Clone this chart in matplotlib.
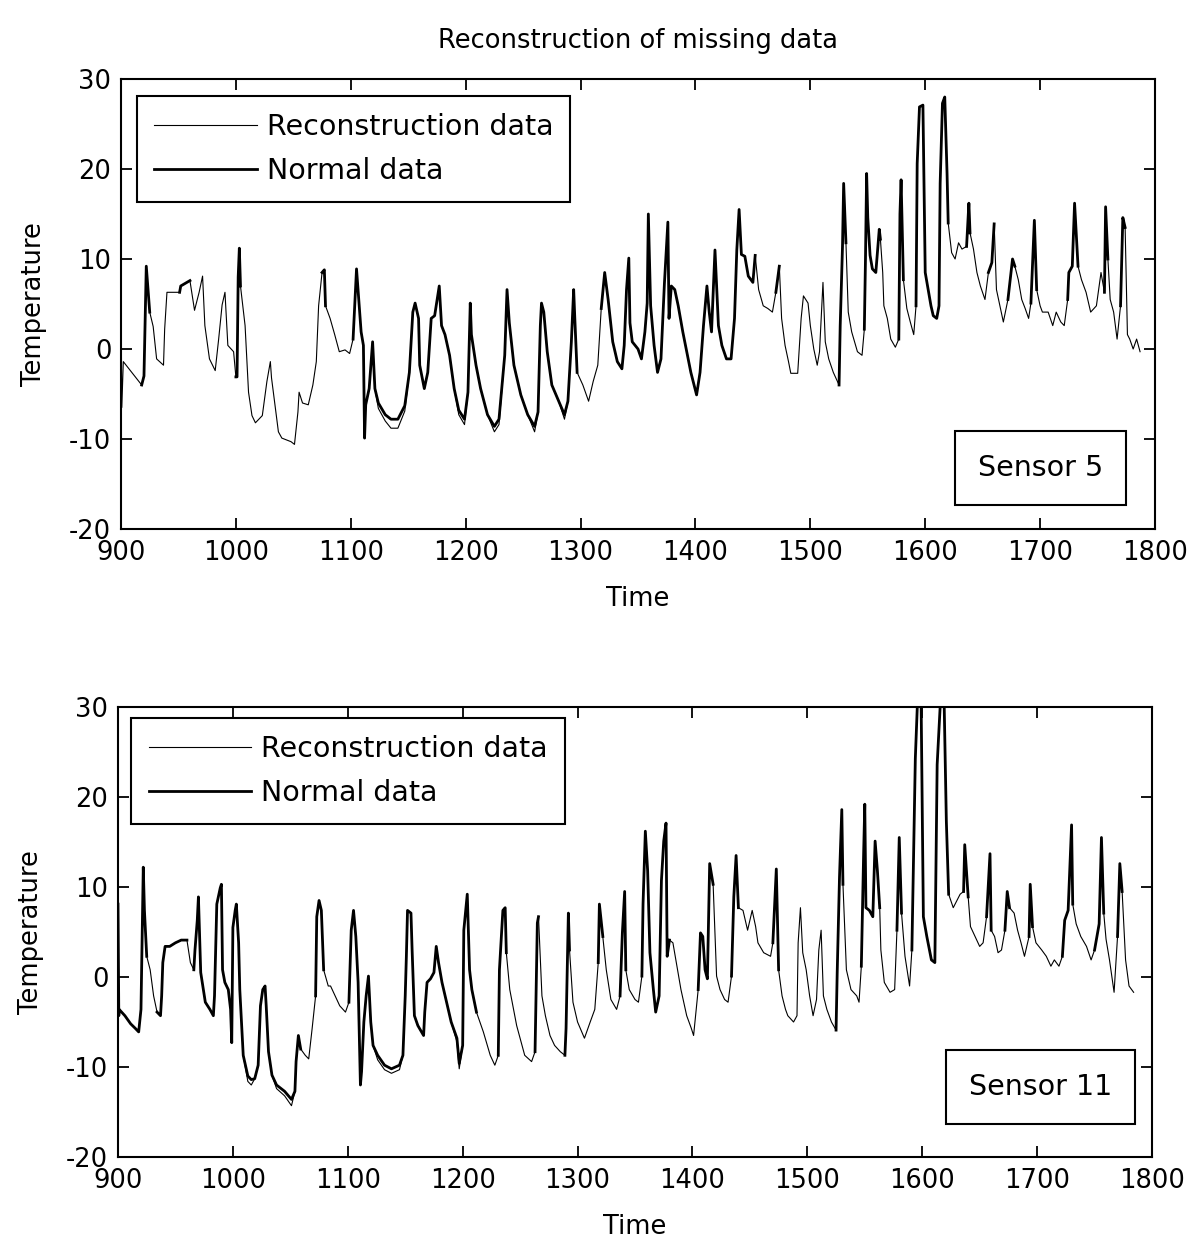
import numpy as np
import matplotlib
matplotlib.use("Agg")
import matplotlib.pyplot as plt

plt.rcParams['font.family'] = ['DejaVu Sans']
plt.rcParams['axes.unicode_minus'] = False

# ---------------- Sensor 5 (top) ----------------
t5 = [900, 900.7, 902, 918, 920, 922, 925, 928, 931, 937, 938, 940, 951, 952, 960, 964, 968, 971, 973,
      977, 982, 985, 988, 990.5, 993, 998, 1000, 1001, 1002, 1003, 1004, 1008, 1011, 1014, 1017, 1023,
      1027, 1030, 1031, 1034, 1037, 1040, 1048, 1051, 1054, 1055, 1058, 1063, 1067, 1070, 1072, 1075,
      1077, 1078, 1082, 1086, 1090, 1095, 1099, 1102, 1105, 1109, 1111, 1112, 1113, 1116, 1119, 1121,
      1124, 1130, 1135, 1141, 1147, 1151, 1154, 1156, 1159, 1160, 1164, 1167, 1170, 1173, 1177, 1179,
      1182, 1186, 1190, 1194, 1199, 1202, 1204, 1205, 1209, 1213, 1219, 1225, 1229, 1234, 1236, 1238,
      1242, 1248, 1254, 1260, 1263, 1265, 1266, 1268, 1271, 1275, 1281, 1286, 1289, 1292, 1294, 1295,
      1297, 1302, 1307, 1311, 1315, 1318, 1321, 1324, 1328, 1332, 1336, 1338, 1340, 1342, 1343, 1345,
      1350, 1353, 1356, 1358, 1359, 1361, 1364, 1367, 1370, 1373, 1376, 1377, 1379, 1382, 1385, 1389,
      1393, 1396, 1401, 1404, 1407, 1410, 1412, 1414, 1417, 1420, 1423, 1427, 1431, 1434, 1436, 1438,
      1440, 1443, 1446, 1450, 1452, 1455, 1459, 1463, 1467, 1470, 1473, 1475, 1478, 1481, 1483, 1489,
      1492, 1494, 1498, 1500, 1503, 1506, 1508, 1511, 1513, 1516, 1520, 1525, 1526, 1528, 1529, 1531,
      1533, 1536, 1541, 1545, 1547, 1548, 1549, 1550, 1552, 1554, 1557, 1560, 1561, 1563, 1564, 1567,
      1570, 1574, 1577, 1578, 1579, 1581, 1584, 1587, 1590, 1592, 1593, 1595, 1598, 1600, 1603, 1605,
      1607, 1610, 1612, 1613, 1615, 1617, 1619, 1620, 1623, 1626, 1629, 1632, 1636, 1638, 1639, 1642,
      1645, 1648, 1652, 1655, 1658, 1660, 1662, 1665, 1668, 1672, 1676, 1678, 1681, 1684, 1687, 1690,
      1692, 1695, 1697, 1700, 1702, 1707, 1711, 1714, 1718, 1721, 1724, 1725, 1728, 1730, 1733, 1736,
      1740, 1744, 1749, 1753, 1756, 1757, 1759, 1761, 1764, 1767, 1770, 1772, 1774, 1776, 1778, 1781,
      1784, 1787]
recon5 = [6.0, -6.5, -1.4, -4.0, -3.0, 9.2, 4.1, 2.5, -1.1, -1.8, 2.2, 6.3, 6.3, 7.0, 7.6, 4.3, 6.3, 8.1, 2.6,
          -1.1, -2.4, 1.1, 4.9, 6.3, 0.4, -0.3, -3.1, -3.1, 8.0, 11.2, 7.0, 2.6, -4.8, -7.4, -8.2, -7.4,
          -3.6, -1.4, -3.2, -6.2, -9.2, -9.9, -10.3, -10.6, -7.0, -4.8, -6.0, -6.2, -4.0, -1.4, 4.8, 8.5,
          8.8, 4.8, 3.4, 1.6, -0.3, -0.1, -0.5, 1.1, 8.9, 1.9, 0.4, -9.9, -6.2, -4.4, 0.8, -4.4,
          -6.6, -8.0, -8.8, -8.8, -6.9, -2.6, 4.1, 5.1, 3.4, -1.8, -4.4, -2.6, 3.4, 3.7, 7.0, 2.6,
          1.6, -0.7, -4.4, -7.3, -8.4, -4.8, 5.1, 1.6, -1.8, -4.4, -7.3, -9.2, -8.4, -0.7, 6.6, 2.9,
          -1.8, -5.1, -7.3, -9.2, -7.0, 2.6, 5.1, 4.1, -0.3, -4.0, -5.8, -7.8, -5.8, 0.8, 6.6, 3.4,
          -2.6, -4.0, -5.8, -3.6, -1.8, 4.5, 8.5, 5.5, 0.8, -1.4, -2.2, 0.4, 6.6, 10.1, 2.9, 0.8,
          0.0, -1.1, 1.9, 5.1, 15.0, 4.8, 0.4, -2.6, -1.1, 7.3, 14.1, 3.4, 7.0, 6.6, 4.8, 1.9,
          -0.7, -2.6, -5.1, -2.6, 2.6, 7.0, 4.1, 1.9, 11.0, 2.6, 0.4, -1.1, -1.1, 3.4, 11.0, 15.5,
          10.5, 10.3, 8.1, 7.4, 10.4, 6.6, 4.8, 4.5, 4.1, 6.3, 9.2, 3.4, 0.4, -1.4, -2.7, -2.7,
          3.4, 5.9, 5.1, 2.6, 0.0, -1.8, -0.3, 7.4, 0.8, -1.1, -2.6, -4.0, 2.6, 11.4, 18.4, 11.8,
          4.1, 1.9, -0.3, -0.7, 2.2, 10.0, 19.5, 14.6, 10.4, 8.9, 8.5, 13.3, 12.2, 8.5, 4.8, 3.4,
          1.1, 0.2, 1.1, 15.0, 18.8, 7.7, 4.5, 3.0, 1.6, 4.8, 20.6, 26.9, 27.1, 8.5, 6.3, 4.8,
          3.7, 3.4, 4.8, 18.4, 27.3, 28.0, 19.5, 14.0, 10.7, 10.0, 11.8, 11.1, 11.4, 16.2, 12.9, 11.1,
          8.5, 7.0, 5.5, 8.5, 9.6, 13.9, 6.6, 4.8, 3.0, 5.5, 10.0, 9.2, 7.7, 5.5, 4.5, 3.4,
          5.1, 14.3, 6.6, 4.8, 4.1, 4.1, 2.6, 4.1, 3.0, 2.6, 5.5, 8.5, 9.2, 16.2, 9.2, 7.7,
          6.3, 4.1, 4.8, 8.5, 6.3, 15.8, 10.0, 5.5, 4.1, 1.1, 4.8, 14.6, 13.5, 1.6, 1.1, 0.0,
          1.1, -0.3]
# time spans where normal (measured) data are present for sensor 5
normal5_spans = [(918, 926), (945, 961), (1000, 1005), (1074, 1079), (1100, 1300), (1318, 1446),
                 (1450, 1453), (1470, 1474), (1525, 1532), (1547, 1562), (1576, 1581),
                 (1592, 1621), (1636, 1640), (1655, 1661), (1672, 1678), (1692, 1697),
                 (1724, 1733), (1755, 1759), (1770, 1775)]
# normal values that differ from the reconstruction (troughs)
normal5_diff = {1124: -6.0, 1130: -7.3, 1135: -7.8, 1141: -7.8, 1147: -6.3, 1194: -6.8, 1199: -7.8,
                1225: -8.6, 1229: -7.8, 1260: -8.6, 1286: -7.3}

# ---------------- Sensor 11 (bottom) ----------------
t11 = [900, 900.7, 901, 906, 911, 915, 918, 920, 922, 923, 925, 928, 931, 934, 937, 938, 939, 941, 945,
       950, 955, 960, 963, 966, 967, 969, 970, 972, 976, 980, 983, 984, 986, 989, 990, 991, 993, 996,
       998, 999, 1000, 1002, 1003, 1005, 1006, 1009, 1013, 1016, 1019, 1022, 1024, 1026, 1028, 1029,
       1031, 1034, 1038, 1045, 1051, 1054, 1055, 1057, 1059, 1063, 1066, 1069, 1072, 1073, 1075, 1077,
       1079, 1083, 1085, 1089, 1093, 1098, 1101, 1103, 1105, 1107, 1109, 1111, 1112, 1114, 1116, 1118,
       1120, 1122, 1126, 1132, 1138, 1145, 1148, 1150, 1151, 1152, 1155, 1156, 1158, 1161, 1166, 1167,
       1169, 1172, 1175, 1177, 1179, 1182, 1186, 1190, 1195, 1197, 1200, 1201, 1204, 1206, 1208, 1212,
       1218, 1224, 1228, 1231, 1232, 1235, 1237, 1238, 1241, 1247, 1254, 1260, 1263, 1265, 1266, 1269,
       1272, 1276, 1280, 1285, 1289, 1290, 1292, 1293, 1296, 1300, 1306, 1311, 1315, 1318, 1319, 1322,
       1325, 1329, 1334, 1337, 1339, 1341, 1342, 1345, 1350, 1353, 1356, 1357, 1359, 1361, 1363, 1366,
       1368, 1371, 1373, 1375, 1377, 1378, 1380, 1383, 1386, 1390, 1395, 1399, 1401, 1405, 1407, 1409,
       1411, 1413, 1415, 1418, 1421, 1424, 1428, 1431, 1434, 1436, 1438, 1440, 1444, 1448, 1452, 1455,
       1457, 1462, 1468, 1470, 1473, 1475, 1478, 1481, 1483, 1488, 1491, 1492, 1494, 1496, 1499, 1502,
       1505, 1508, 1510, 1512, 1514, 1517, 1521, 1525, 1526, 1528, 1530, 1531, 1534, 1538, 1543, 1545,
       1547, 1549, 1550, 1551, 1554, 1557, 1559, 1561, 1563, 1564, 1567, 1572, 1576, 1578, 1580, 1582,
       1585, 1589, 1591, 1594, 1596, 1599, 1601, 1604, 1608, 1611, 1613, 1616, 1619, 1621, 1623, 1627,
       1633, 1636, 1637, 1640, 1642, 1646, 1650, 1653, 1656, 1659, 1660, 1663, 1666, 1669, 1672, 1674,
       1676, 1680, 1683, 1686, 1689, 1693, 1694, 1696, 1699, 1704, 1708, 1712, 1715, 1719, 1722, 1724,
       1727, 1730, 1731, 1734, 1738, 1743, 1747, 1750, 1754, 1756, 1758, 1760, 1763, 1767, 1770, 1772,
       1774, 1777, 1780, 1784]
recon11 = [8.1, -4.3, -3.6, -4.3, -5.2, -5.7, -6.1, -3.6, 12.2, 7.4, 2.3, 0.8, -2.1, -3.9, -4.3, -2.1, 1.6, 3.4, 3.4,
           3.8, 4.1, 4.1, 1.6, 0.8, 3.0, 6.3, 8.9, 0.5, -2.8, -3.6, -4.3, -2.1, 8.1, 9.9, 10.3, 0.8, -0.6, -1.4,
           -3.6, -7.3, 5.5, 7.4, 8.1, 3.8, -1.4, -8.7, -11.6, -12.0, -11.3, -9.8, -3.2, -1.4, -1.0, -3.2,
           -8.3, -10.9, -12.4, -13.2, -14.3, -12.7, -9.4, -6.5, -8.0, -8.7, -9.1, -5.7, -2.1, 6.7, 8.5, 7.4,
           0.8, -1.0, -1.0, -2.1, -3.2, -3.9, -2.8, 5.2, 7.4, 4.5, -0.6, -12.0, -10.5, -5.0, -2.1, 0.1,
           -5.0, -7.6, -9.2, -10.3, -10.7, -10.3, -8.7, -2.1, 2.3, 7.4, 7.1, 3.0, -4.3, -5.4, -6.5, -3.9,
           -0.6, -0.2, 0.5, 3.4, 1.6, -0.6, -2.8, -5.0, -7.2, -10.2, -7.6, 5.2, 9.2, 0.8, -1.4, -3.9,
           -6.1, -8.7, -9.8, -8.7, 0.8, 7.4, 7.7, 2.7, -1.4, -5.4, -8.7, -9.4, -8.3, 6.0, 6.7, -2.1,
           -4.3, -6.5, -7.6, -8.3, -8.7, -5.7, 7.1, 3.0, -2.8, -5.0, -6.8, -5.0, -3.6, 1.6, 8.1, 4.5,
           0.8, -2.5, -3.6, -2.1, 4.9, 9.5, 0.8, -1.4, -2.5, -2.8, 0.1, 8.1, 16.2, 11.8, 2.7, -1.4,
           -3.9, -2.1, 10.7, 15.1, 17.1, 2.3, 4.1, 3.8, 1.6, -1.4, -4.3, -5.7, -6.5, -1.4, 4.9, 4.5,
           0.8, -0.2, 12.6, 10.3, 0.1, -1.4, -2.5, -2.8, 0.1, 8.9, 13.5, 7.7, 7.4, 5.2, 7.4, 5.6,
           3.8, 2.7, 2.3, 3.8, 12.0, 0.8, -2.1, -3.6, -4.3, -5.0, -4.3, 3.8, 7.7, 2.7, 0.8, -2.1,
           -4.3, -2.5, 3.0, 5.2, -2.1, -3.6, -5.0, -5.9, 0.5, 11.1, 18.6, 10.3, 0.8, -1.4, -2.1, -2.8,
           1.2, 13.7, 19.2, 7.7, 7.4, 6.7, 15.1, 11.8, 7.7, 3.0, -0.6, -1.7, -1.4, 5.2, 15.5, 7.1,
           2.3, -1.0, 3.0, 24.3, 31.0, 31.0, 6.7, 4.5, 1.9, 1.6, 23.6, 31.0, 31.0, 17.3, 9.2, 7.7,
           9.2, 9.5, 14.7, 8.9, 5.6, 4.5, 3.4, 3.8, 6.7, 13.7, 5.2, 4.5, 2.7, 3.0, 5.2, 9.5,
           7.7, 7.1, 5.2, 3.8, 2.3, 4.5, 10.3, 5.6, 3.8, 3.0, 2.3, 1.2, 1.9, 1.2, 2.3, 6.3,
           7.4, 16.9, 8.1, 5.9, 4.5, 3.4, 1.9, 3.0, 5.9, 15.5, 7.1, 4.2, 1.9, -1.7, 4.5, 12.6,
           9.5, 1.9, -1.0, -1.7]
normal11_spans = [(900, 925), (934, 961), (965, 1006), (1009, 1060), (1070, 1080), (1100, 1215),
                  (1230, 1240), (1262, 1268), (1289, 1294), (1317, 1323), (1337, 1343),
                  (1355, 1381), (1404, 1420), (1434, 1441), (1470, 1475), (1525, 1532),
                  (1547, 1563), (1577, 1583), (1590, 1624), (1636, 1641), (1655, 1661),
                  (1672, 1677), (1692, 1697), (1722, 1732), (1750, 1759), (1769, 1775)]
normal11_diff = {1013: -11.0, 1016: -11.4, 1038: -12.0, 1045: -12.7, 1051: -13.6, 1126: -8.7,
                 1132: -9.8, 1138: -10.2, 1145: -9.8, 1195: -6.8, 1197: -9.6}


def normal_series(t, r, spans, diff):
    out = []
    for ti, ri in zip(t, r):
        inside = any(a <= ti <= b for a, b in spans)
        out.append(diff.get(ti, ri) if inside else np.nan)
    return np.array(out, dtype=float)


normal5 = normal_series(t5, recon5, normal5_spans, normal5_diff)
normal11 = normal_series(t11, recon11, normal11_spans, normal11_diff)

W, H = 1189, 1239
fig = plt.figure(figsize=(W / 100, H / 100), dpi=100)
ax1 = fig.add_axes([121 / W, 1 - 529 / H, (1155 - 121) / W, (529 - 79) / H])
ax2 = fig.add_axes([118 / W, 1 - 1157 / H, (1152 - 118) / W, (1157 - 707) / H])

FS = 18.5
LFS = 20.5


def style(ax, t, r, n, sensor, legxy, sensxy):
    ax.plot(t, r, color='black', lw=0.8, label='Reconstruction data')
    ax.plot(t, n, color='black', lw=2.0, label='Normal data')
    ax.set_xlim(900, 1800)
    ax.set_ylim(-20, 30)
    ax.set_xticks(range(900, 1801, 100))
    ax.set_yticks(range(-20, 31, 10))
    ax.tick_params(direction='in', length=8, width=1.3, labelsize=FS, top=True, right=True)
    ax.tick_params(axis='x', pad=8)
    ax.tick_params(axis='y', pad=7)
    for s in ax.spines.values():
        s.set_linewidth(1.5)
    ax.set_xlabel('Time', fontsize=FS, labelpad=14)
    ax.set_ylabel('Temperature', fontsize=FS, labelpad=16)
    leg = ax.legend(loc='upper left', bbox_to_anchor=legxy, fontsize=LFS, frameon=True,
                    fancybox=False, edgecolor='black', framealpha=1, handlelength=3.6,
                    handletextpad=0.35, borderpad=0.6, labelspacing=0.55, borderaxespad=0)
    leg.get_frame().set_linewidth(1.5)
    ax.text(sensxy[0], sensxy[1], sensor, transform=ax.transAxes, fontsize=LFS, ha='center',
            va='center', bbox=dict(boxstyle='square,pad=0.8', fc='white', ec='black', lw=1.5))


style(ax1, t5, recon5, normal5, 'Sensor 5', (0.0155, 0.962), (0.889, 0.135))
style(ax2, t11, recon11, normal11, 'Sensor 11', (0.013, 0.975), (0.892, 0.156))
ax1.set_title('Reconstruction of missing data', fontsize=FS, pad=22)

fig.savefig('out.png', dpi=100)
